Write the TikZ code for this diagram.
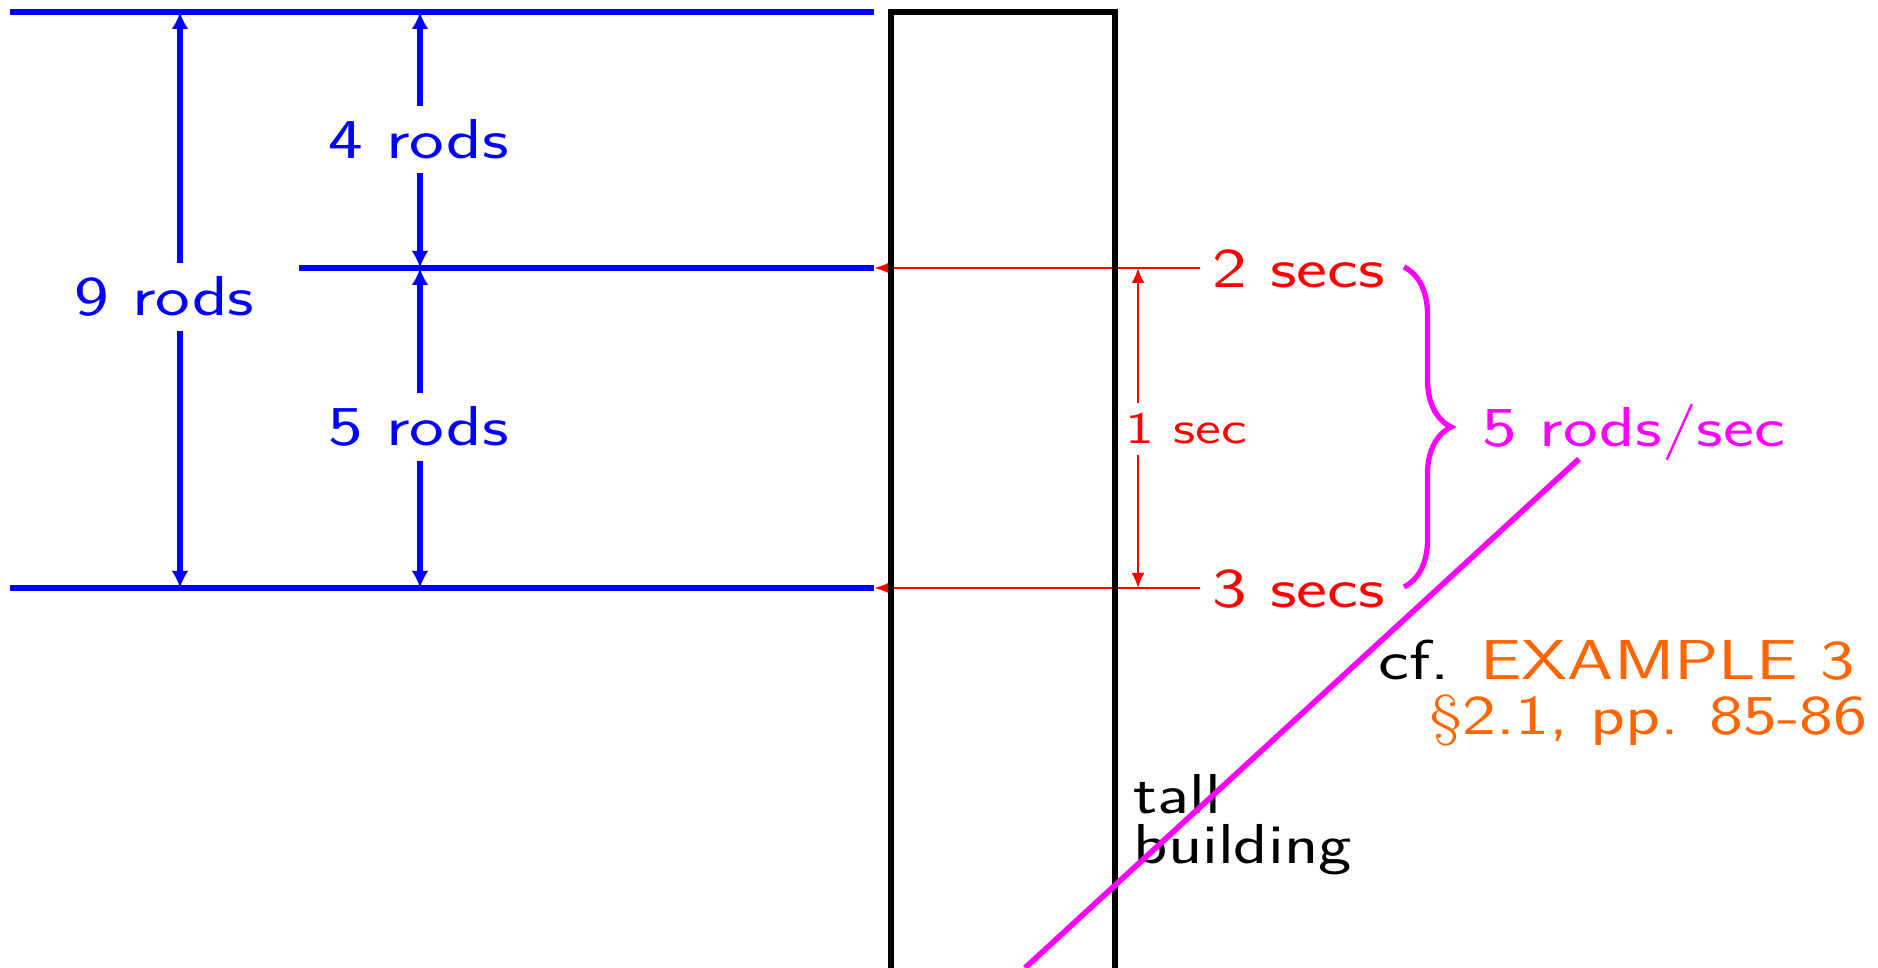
\documentclass[tikz,border=0pt]{standalone}
\usepackage{graphicx}
\usetikzlibrary{arrows.meta,decorations.pathreplacing}
\definecolor{rodblue}{RGB}{0,0,255}
\definecolor{secred}{RGB}{255,0,0}
\definecolor{ratemag}{RGB}{255,0,255}
\definecolor{refor}{RGB}{255,102,0}
\newcommand{\stretchtxt}[1]{\scalebox{1.31}[1]{#1}}
\newcommand{\stretchtxtb}[1]{\scalebox{1.26}[1]{#1}}
\begin{document}
\begin{tikzpicture}[x=0.01cm,y=-0.01cm,
  font=\sffamily\fontsize{16}{19}\selectfont,
  rodline/.style={draw=rodblue,line width=1.7pt},
  rodarrow/.style={draw=rodblue,line width=1.6pt,-{Latex[length=0.17cm,width=0.17cm]}},
  rodlabel/.style={text=rodblue,inner xsep=0pt,inner ysep=0.13cm},
  secarrowh/.style={draw=secred,line width=0.65pt,-{Latex[length=0.16cm,width=0.12cm]}},
  secarrowv/.style={draw=secred,line width=0.65pt,-{Latex[length=0.15cm,width=0.13cm]}},
  seclabel/.style={text=secred,inner xsep=0.12cm,inner ysep=0pt},
  onesecstyle/.style={text=secred,inner xsep=0pt,inner ysep=0.1cm,font=\sffamily\fontsize{12.8}{15}\selectfont},
  buildingbox/.style={draw=black,line width=1.6pt},
  ratebrace/.style={draw=ratemag,line width=1.5pt,decorate,decoration={brace,amplitude=0.47cm}},
  rateline/.style={draw=ratemag,line width=1.6pt},
  ratelabel/.style={text=ratemag,inner sep=0pt},
  plainlabel/.style={text=black,inner sep=0pt}]
\useasboundingbox (0,0) rectangle (1878,968);
\clip (0,0) rectangle (1878,968);
% blue levels
\coordinate (topL) at (10,12);  \coordinate (topR) at (874,12);
\coordinate (midL) at (299,268); \coordinate (midR) at (874,268);
\coordinate (botL) at (10,588); \coordinate (botR) at (874,588);
\draw[rodline] (topL) -- (topR);
\draw[rodline] (midL) -- (midR);
\draw[rodline] (botL) -- (botR);
\coordinate (nineax) at (180,0);
\coordinate (fourax) at (420,0);
\node[rodlabel,anchor=base] (nine) at (164.5,316) {\stretchtxt{9 rods}};
\node[rodlabel,anchor=base] (four) at (418.5,159) {\stretchtxt{4 rods}};
\node[rodlabel,anchor=base] (five) at (418.5,446) {\stretchtxt{5 rods}};
\draw[rodarrow] (nine.north -| nineax) -- (nineax |- topL);
\draw[rodarrow] (nine.south -| nineax) -- (nineax |- botL);
\draw[rodarrow] (four.north -| fourax) -- (fourax |- topL);
\draw[rodarrow] (four.south -| fourax) -- (fourax |- midL);
\draw[rodarrow] (five.north -| fourax) -- (fourax |- midL);
\draw[rodarrow] (five.south -| fourax) -- (fourax |- botL);
% red times
\node[seclabel,anchor=base] (twosecs) at (1298.5,288) {\stretchtxt{2 secs}};
\node[seclabel,anchor=base] (threesecs) at (1298.5,608) {\stretchtxt{3 secs}};
\draw[secarrowh] (twosecs.west |- midR) -- (midR);
\draw[secarrowh] (threesecs.west |- botR) -- (botR);
\coordinate (oneax) at (1138,0);
\node[onesecstyle,anchor=base] (onesec) at (1186,444) {\stretchtxt{1 sec}};
\draw[secarrowv] (onesec.north -| oneax) -- (oneax |- midR);
\draw[secarrowv] (onesec.south -| oneax) -- (oneax |- botR);
% building
\draw[buildingbox] (891,1010) -- (891,12) -- (1115,12) -- (1115,1010);
\node[plainlabel,anchor=north west,align=left,font=\sffamily\fontsize{16}{14.2}\selectfont] (tall) at (1133,774) {\stretchtxtb{tall}\\\stretchtxtb{building}};
% rate
\coordinate (braceT) at (1404,267);
\coordinate (braceB) at (1404,587);
\draw[ratebrace] (braceT) -- (braceB);
\node[ratelabel,anchor=base] (rate) at (1633.5,447) {\stretchtxt{5 rods/sec}};
\node[plainlabel,anchor=north east,align=right,font=\sffamily\fontsize{16}{15.65}\selectfont] (cf) at (1868,639)
  {\stretchtxt{cf. \textcolor{refor}{EXAMPLE 3}}\hspace*{0.12cm}\\\scalebox{1.28}[1]{\textcolor{refor}{\textrm{\S}2.1, pp. 85-86}}};
\coordinate (rateS) at (1579,459);
\coordinate (rateE) at (1025,968);
\draw[rateline] (rateS) -- (rateE);
\end{tikzpicture}
\end{document}
